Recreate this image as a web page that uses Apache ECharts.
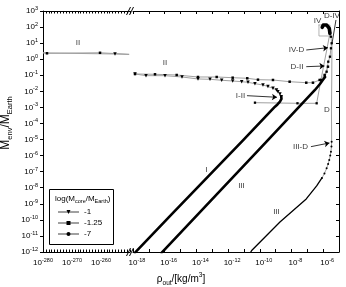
<!DOCTYPE html>
<html>
<head>
<meta charset="utf-8">
<script src="https://cdn.jsdelivr.net/npm/echarts@6.0.0/dist/echarts.min.js"></script>
<style>html,body{margin:0;padding:0;background:#fff;}#chart{width:346px;height:287px;}</style>
</head>
<body>
<div id="chart"></div>
<script>
// All values are [log10(rho_out / kg m^-3), log10(M_env / M_Earth)]
// Left (broken) segment of the x axis
const leftII_m125 = [[-280.0,0.405],[-278.62,0.368],[-260.34,0.399],[-250.3,0.306]];
const leftII_m1 = [[-280.0,0.39],[-255.17,0.324],[-250.3,0.295]];
// Right segment, core mass log = -1 (triangles)
const r1_II = [[-17.874,-0.920],[-17.180,-1.026],[-15.981,-1.026],[-14.909,-1.107],[-13.899,-1.231],[-13.142,-1.250],[-12.404,-1.312],[-11.710,-1.356],[-11.142,-1.400],[-10.744,-1.437],[-10.303,-1.524],[-9.798,-1.605],[-9.483,-1.698],[-9.167,-1.810],[-8.946,-1.916],[-8.852,-2.022],[-8.726,-2.165],[-8.644,-2.333]];
const r1_I = [[-8.644,-2.333],[-8.631,-2.476],[-8.726,-2.644],[-8.883,-2.818],[-9.041,-2.955],[-11.060,-5.058],[-15.476,-9.570],[-17.767,-11.935],[-17.88,-12.05]];
// core mass log = -1.25 (squares)
const r125_II = [[-17.874,-0.920],[-16.612,-0.939],[-15.243,-0.983],[-13.899,-1.107],[-12.719,-1.107],[-11.710,-1.151],[-10.789,-1.188],[-10.114,-1.275],[-9.167,-1.294],[-8.114,-1.400],[-7.066,-1.462],[-6.644,-1.462],[-6.221,-1.294],[-5.905,-0.983],[-5.697,-0.466]];
const r125_III = [[-16.20,-12.05],[-16.088,-11.935],[-9.590,-5.152],[-6.517,-1.916],[-6.202,-1.543],[-5.886,-1.107]];
const r125_steep = [[-5.886,-1.107],[-5.779,-0.777],[-5.678,-0.155],[-5.571,0.156],[-5.508,0.679],[-5.464,0.990],[-5.508,1.401],[-5.571,1.612]];
const r125_IV = [[-5.571,1.612],[-5.615,1.923],[-5.779,2.129],[-5.993,2.129],[-6.057,1.986]];
const r125_jump = [[-10.303,-2.706],[-7.621,-2.744],[-6.410,-2.744],[-6.139,-1.294],[-5.571,1.612]];
// core mass log = -7 (dots)
const r7_III = [[-10.593,-12.05],[-10.511,-11.904],[-8.726,-10.130],[-7.066,-8.699],[-6.410,-7.890],[-6.076,-7.392]];
const r7_dots = [[-6.076,-7.392],[-5.918,-7.112],[-5.779,-6.788],[-5.685,-6.521],[-5.615,-6.272],[-5.552,-5.992],[-5.508,-5.755],[-5.476,-5.432],[-5.464,-5.133]];
const r7_D = [[-5.464,-5.133],[-5.476,-3.161],[-5.457,-1.294],[-5.445,0.884]];
// box around region IV
const boxIV = [[-6.265,2.129],[-5.571,2.129],[-5.571,1.444],[-6.265,1.444],[-6.265,2.129]];
// annotations
const labelsRight = [['II',-15.981,-0.254],['I-II',-11.218,-2.258],['IV',-6.360,2.409],['D-IV',-5.445,2.720],['IV-D',-7.685,0.573],['D-II',-7.653,-0.466],['D',-5.760,-3.161],['III-D',-7.432,-5.463],['I',-13.363,-6.863],['III',-11.155,-7.859],['III',-8.946,-9.508]];
const labelsLeft = [['II',-267.93,1.009]];
const arrows = [[[-10.808,-2.271],[-8.915,-2.370]],[[-7.066,0.573],[-5.697,0.716]],[[-7.066,-0.466],[-5.918,-0.423]],[[-6.770,-5.444],[-5.603,-5.214]]];
const leaders = [[[-5.192,2.440],[-5.445,0.947]]];
// axis ticks
const yTickMin = -12, yTickMax = 3;
const xLeftMin = -280, xLeftMax = -250, xLeftLabelStep = 10;
const xRightMin = -18, xRightMax = -5, xRightLabelStep = 2, xRightLastLabel = -6;
const legendNames = ['-1','-1.25','-7'];

const FONT = 'Liberation Sans, Arial, Helvetica, sans-serif';
const GRAY = '#a0a0a0';
const supRich = {
  b:{fontSize:8, fontFamily:FONT, color:'#000', lineHeight:11, verticalAlign:'middle'},
  s:{fontSize:5.5, fontFamily:FONT, color:'#000', lineHeight:5.5, verticalAlign:'top'}
};
const pow = v => '{b|10}{s|' + v + '}';

function pts(arr, noMark){ return arr.map((p,i)=> noMark.indexOf(i)>=0 ? {value:p, symbol:'none'} : p); }

function xAx(grid, pos, min, max, fmt, tickLen, pad){
  return {type:'value', gridIndex:grid, position:pos, min:min, max:max, interval:1,
    axisLine:{show:true, onZero:false, lineStyle:{color:'#000', width:1}},
    axisTick:{show:true, inside:true, length:tickLen, lineStyle:{color:'#000', width:1}},
    axisLabel:{show:!!fmt, formatter:fmt||'', rich:supRich, margin:5, padding:pad||0, showMinLabel:true, showMaxLabel:true},
    splitLine:{show:false}};
}

function markerSeries(name, data, xi, yi, symbol, size, rot){
  return {type:'line', name:name, data:data, xAxisIndex:xi, yAxisIndex:yi,
    symbol:symbol, symbolSize:size, symbolRotate:rot||0, showSymbol:true, showAllSymbol:true,
    lineStyle:{color:GRAY, width:1}, itemStyle:{color:'#000'}, z:3, silent:true, animation:false};
}
function plainLine(name, data, color, w, z){
  return {type:'line', name:name, data:data, xAxisIndex:2, yAxisIndex:1, symbol:'none',
    lineStyle:{color:color, width:w, cap:'round', join:'round'}, z:z||4, silent:true, animation:false};
}

const labelStyle = {show:true, position:'inside', formatter:'{b}', fontSize:8, fontFamily:FONT, color:'#000'};

const option = {
  animation:false,
  backgroundColor:'#fff',
  grid:[
    {left:43, top:11, width:87, height:241},
    {left:133, top:11, width:206, height:241}
  ],
  xAxis:[
    xAx(0,'bottom',xLeftMin,xLeftMax,v=>(v%xLeftLabelStep===0 && v<xLeftMax)?pow(v):'',2.5),
    xAx(0,'top',xLeftMin,xLeftMax,null,2.5),
    xAx(1,'bottom',xRightMin,xRightMax,v=>(v%xRightLabelStep===0 && v<=xRightLastLabel)?pow(v):'',3,[0,0,0,8]),
    xAx(1,'top',xRightMin,xRightMax,null,3)
  ],
  yAxis:[
    {type:'value', gridIndex:0, position:'left', min:yTickMin, max:yTickMax, interval:1,
      axisLine:{show:true, onZero:false, lineStyle:{color:'#000', width:1}},
      axisTick:{show:true, inside:false, length:3, lineStyle:{color:'#000'}},
      axisLabel:{formatter:pow, rich:supRich, margin:5, showMinLabel:true, showMaxLabel:true},
      splitLine:{show:false}},
    {type:'value', gridIndex:1, position:'right', min:yTickMin, max:yTickMax, interval:1,
      axisLine:{show:true, onZero:false, lineStyle:{color:'#000', width:1}},
      axisTick:{show:true, inside:true, length:3, lineStyle:{color:'#000'}},
      axisLabel:{show:false}, splitLine:{show:false}}
  ],
  legend:{data:legendNames, orient:'vertical', left:57, top:208, itemWidth:21, itemHeight:5, itemGap:3,
    padding:0, textStyle:{fontSize:8, fontFamily:FONT, color:'#000'}, selectedMode:false},
  series:[
    markerSeries('-1', r1_II, 2, 1, 'triangle', 3.5, 180),
    markerSeries('-1.25', r125_II, 2, 1, 'rect', 2.5),
    markerSeries('-7', r7_dots, 2, 1, 'circle', 2),
    markerSeries('-1.25', pts(leftII_m125,[0,3]), 0, 0, 'rect', 2.5),
    markerSeries('-1', pts(leftII_m1,[0,2]), 0, 0, 'triangle', 3.5, 180),
    markerSeries('-1.25', r125_steep, 2, 1, 'rect', 2.3),
    markerSeries('-1.25', r125_jump, 2, 1, 'rect', 2.3),
    plainLine('I dense', r1_I, '#000', 2.6),
    plainLine('III dense', r125_III, '#000', 2.6),
    plainLine('IV dense', r125_IV, '#000', 3.6),
    plainLine('III thin', r7_III, '#000', 1.3),
    plainLine('D line', r7_D, GRAY, 1, 2),
    plainLine('IV box', boxIV, GRAY, 0.8, 2),
    {type:'scatter', name:'labels', xAxisIndex:2, yAxisIndex:1, symbolSize:1,
      itemStyle:{color:'rgba(0,0,0,0)'}, silent:true, animation:false, z:5,
      data:labelsRight.map(l=>({name:l[0], value:[l[1],l[2]]})), label:labelStyle,
      markLine:{silent:true, animation:false, symbol:['none','arrow'], symbolSize:5,
        label:{show:false}, lineStyle:{color:'#000', width:0.8, type:'solid'},
        emphasis:{disabled:true},
        data: arrows.map(a=>[{coord:a[0]},{coord:a[1]}]).concat(
              leaders.map(a=>[{coord:a[0], symbol:'none'},{coord:a[1], symbol:'none'}]))}},
    {type:'scatter', name:'labelsL', xAxisIndex:0, yAxisIndex:0, symbolSize:1,
      itemStyle:{color:'rgba(0,0,0,0)'}, silent:true, animation:false, z:5,
      data:labelsLeft.map(l=>({name:l[0], value:[l[1],l[2]]})), label:labelStyle}
  ],
  graphic:[
    {type:'rect', shape:{x:49.5, y:189.5, width:64, height:55}, style:{fill:'#fff', stroke:'#000', lineWidth:1}, z:-1},
    {type:'text', x:55, y:199, style:{text:'{a|log(M}{s|core}{a|/M}{s|Earth}{a|)}', textVerticalAlign:'middle',
      rich:{a:{fontSize:8, fontFamily:FONT, color:'#000', lineHeight:11, verticalAlign:'middle'},
            s:{fontSize:5.5, fontFamily:FONT, color:'#000', lineHeight:6, verticalAlign:'bottom'}}}},
    // axis break marks
    {type:'line', shape:{x1:126.5, y1:256, x2:130.5, y2:248}, style:{stroke:'#000', lineWidth:1}},
    {type:'line', shape:{x1:129.5, y1:256, x2:133.5, y2:248}, style:{stroke:'#000', lineWidth:1}},
    {type:'line', shape:{x1:126.5, y1:15, x2:130.5, y2:7}, style:{stroke:'#000', lineWidth:1}},
    {type:'line', shape:{x1:129.5, y1:15, x2:133.5, y2:7}, style:{stroke:'#000', lineWidth:1}},
    // axis titles
    {type:'text', x:181, y:279, style:{text:'{a|ρ}{s|out}{a|/[kg/m}{p|3}{a|]}', textAlign:'center', textVerticalAlign:'middle',
      rich:{a:{fontSize:10, fontFamily:FONT, color:'#000', lineHeight:15, verticalAlign:'middle'},
            s:{fontSize:6.5, fontFamily:FONT, color:'#000', lineHeight:7, verticalAlign:'bottom'},
            p:{fontSize:6.5, fontFamily:FONT, color:'#000', lineHeight:7, verticalAlign:'top'}}}},
    {type:'text', x:6, y:123, rotation:Math.PI/2, style:{text:'{a|M}{s|env}{a|/M}{s|Earth}', textAlign:'center', textVerticalAlign:'middle',
      rich:{a:{fontSize:12, fontFamily:FONT, color:'#000', lineHeight:15, verticalAlign:'middle'},
            s:{fontSize:7.5, fontFamily:FONT, color:'#000', lineHeight:7, verticalAlign:'bottom'}}}}
  ]
};
const chart = echarts.init(document.getElementById('chart'));
chart.setOption(option);
</script>
</body>
</html>
